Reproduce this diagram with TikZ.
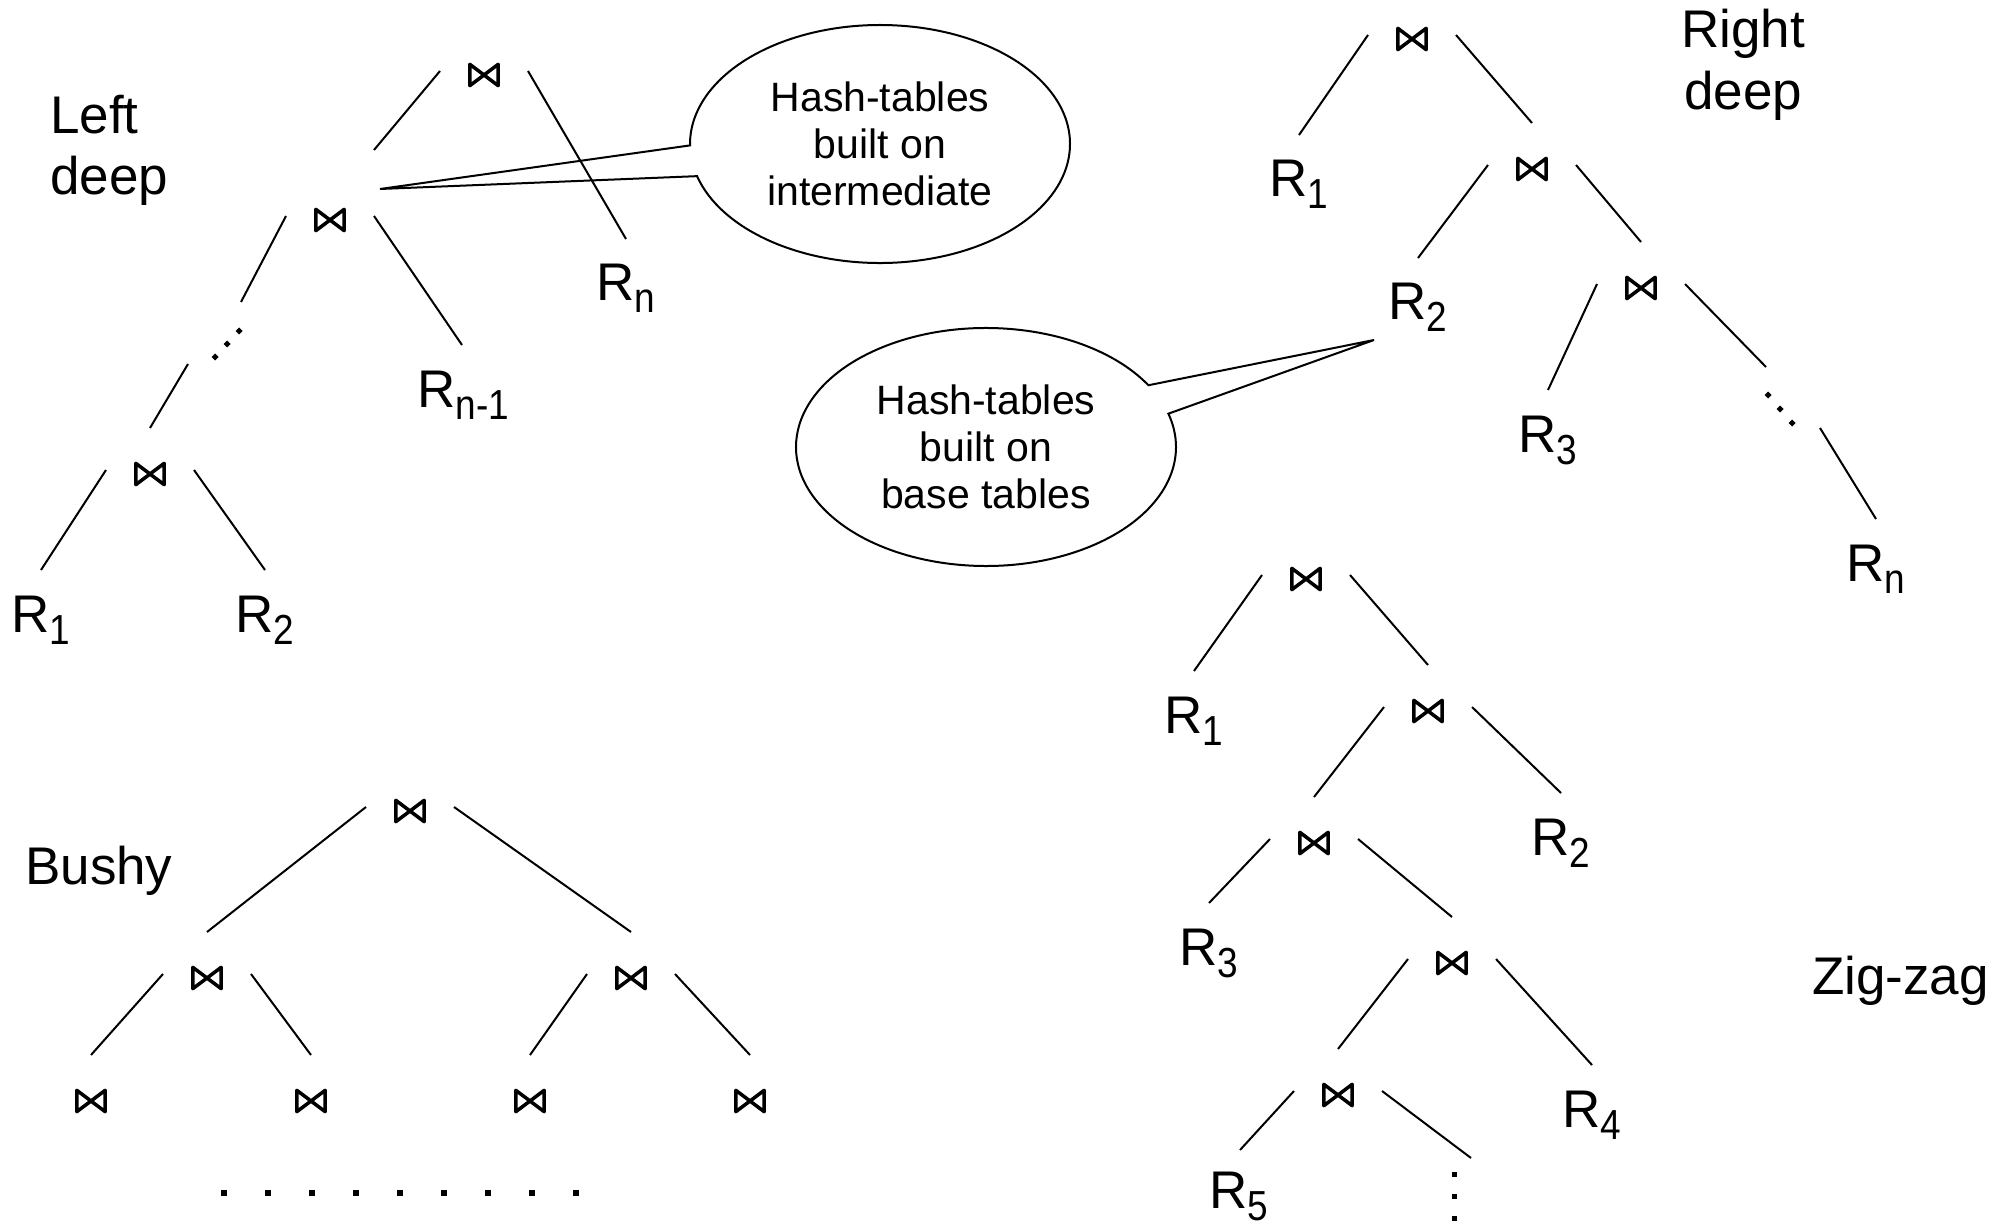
\documentclass[tikz,border=0pt]{standalone}
\usepackage{fontspec}
\setmainfont{Liberation Sans}
\usepackage{graphicx}
\usetikzlibrary{calc,shapes.geometric,shapes.callouts}

% relation name with a lowered, slightly condensed subscript
\newcommand{\Rel}[1]{R\raisebox{-12pt}{\fontsize{42}{42}\selectfont\scalebox{0.88}[1]{#1}}}

\begin{document}
\begin{tikzpicture}[x=1pt,y=-1pt,
  edge/.style={line width=2pt},
  jn/.style={inner sep=0pt, minimum width=28pt, minimum height=21pt},
  bowtie/.style={line width=3.5pt, line join=round, line cap=round},
  rel/.style={inner sep=0pt, anchor=base west, font=\fontsize{53}{61}\selectfont},
  title/.style={inner sep=0pt, font=\fontsize{53}{61.5}\selectfont},
  bubble/.style={ellipse callout, draw, line width=2pt, inner sep=0pt,
    minimum width=380pt, minimum height=238pt, callout pointer arc=15,
    align=center, font=\fontsize{41}{47}\selectfont},
]
\useasboundingbox (0,0) rectangle (2007,1222);

% ---- titles
\node[title, anchor=north west, align=left] (tleft) at (50,94.5) {Left\\deep};
\node[title, anchor=north, align=center] (tright) at (1743,9) {Right\\deep};
\node[title, anchor=base west] (tbushy) at (25,884) {Bushy};
\node[title, anchor=base west] (tzig) at (1812,994) {Zig-zag};

% ---- join operators
% left deep
\node[jn] (a1) at (484,75) {};
\node[jn] (a2) at (330,220) {};
\node[jn] (a3) at (150,474) {};
% right deep
\node[jn] (b1) at (1412,39) {};
\node[jn] (b2) at (1532,169) {};
\node[jn] (b3) at (1641,288) {};
% zig-zag
\node[jn] (z1) at (1306,579) {};
\node[jn] (z2) at (1428,711) {};
\node[jn] (z3) at (1314,843) {};
\node[jn] (z4) at (1452,963) {};
\node[jn] (z5) at (1338,1095) {};
% bushy
\node[jn] (y1) at (410,811) {};
\node[jn] (y2) at (207,978) {};
\node[jn] (y3) at (631,978) {};
\node[jn] (y4) at (91,1101) {};
\node[jn] (y5) at (311,1101) {};
\node[jn] (y6) at (530,1101) {};
\node[jn] (y7) at (750,1101) {};

\foreach \n in {a1,a2,a3,b1,b2,b3,z1,z2,z3,z4,z5,y1,y2,y3,y4,y5,y6,y7}
  \draw[bowtie] (\n.north west) -- (\n.south west) -- (\n.north east) -- (\n.south east) -- cycle;

% ---- relations
\node[rel] (aR1) at (11,632) {\Rel{1}};
\node[rel] (aR2) at (235,632) {\Rel{2}};
\node[rel] (aRn1) at (417,407) {\Rel{n-1}};
\node[rel] (aRn) at (596,301) {\Rel{n}};
\node[rel] (bR1) at (1269,197) {\Rel{1}};
\node[rel] (bR2) at (1388,320) {\Rel{2}};
\node[rel] (bR3) at (1518,452) {\Rel{3}};
\node[rel] (bRn) at (1846,581) {\Rel{n}};
\node[rel] (zR1) at (1164,733) {\Rel{1}};
\node[rel] (zR2) at (1531,855) {\Rel{2}};
\node[rel] (zR3) at (1179,965) {\Rel{3}};
\node[rel] (zR4) at (1562,1127) {\Rel{4}};
\node[rel] (zR5) at (1209,1208) {\Rel{5}};

% ---- ellipses (continuation marks)
\coordinate (adots) at (227,344);
\coordinate (bdots) at (1780,409);
\coordinate (zdots) at (1454,1196);
\coordinate (ydots) at (399.5,1193);
\foreach \k in {-1,0,1} {
  \fill ($(adots)+(12*\k,-13*\k)$) +(-3.5,0) -- +(0,-3.5) -- +(3.5,0) -- +(0,3.5) -- cycle;
  \fill ($(bdots)+(12*\k,14*\k)$) +(-3.5,0) -- +(0,-3.5) -- +(3.5,0) -- +(0,3.5) -- cycle;
  \fill ($(zdots)+(-2.5,22*\k-2.5)$) rectangle +(5,5);
}
\foreach \k in {-4,...,4}
  \fill ($(ydots)+(44*\k-3,-3)$) rectangle +(6,6);

% ---- callouts
\coordinate (tipA) at ($(a2)+(50,-31)$);
\node[bubble, callout absolute pointer={(tipA)}] (hashA) at (880,144)
  {Hash-tables\\built on\\intermediate};
\coordinate (tipB) at ($(bR2.base west)+(-14,20)$);
\node[bubble, callout absolute pointer={(tipB)}] (hashB) at (986,447)
  {Hash-tables\\built on\\base tables};

% ---- left deep tree
\draw[edge] ($(a1)+(-44,-4)$) -- ($(a2)+(44,-70)$);
\draw[edge] ($(a1)+(44,-4)$) -- ($(aRn.base west)+(30,-62)$);
\draw[edge] ($(a2)+(-44,-4)$) -- ($(adots)+(14,-42)$);
\draw[edge] ($(a2)+(44,-4)$) -- ($(aRn1.base west)+(45,-62)$);
\draw[edge] ($(adots)+(-39,20)$) -- ($(a3)+(0,-46)$);
\draw[edge] ($(a3)+(-44,-4)$) -- ($(aR1.base west)+(30,-62)$);
\draw[edge] ($(a3)+(44,-4)$) -- ($(aR2.base west)+(30,-62)$);

% ---- right deep tree
\draw[edge] ($(b1)+(-44,-4)$) -- ($(bR1.base west)+(30,-62)$);
\draw[edge] ($(b1)+(44,-4)$) -- ($(b2)+(0,-46)$);
\draw[edge] ($(b2)+(-44,-4)$) -- ($(bR2.base west)+(30,-62)$);
\draw[edge] ($(b2)+(44,-4)$) -- ($(b3)+(0,-46)$);
\draw[edge] ($(b3)+(-44,-4)$) -- ($(bR3.base west)+(30,-62)$);
\draw[edge] ($(b3)+(44,-4)$) -- ($(bdots)+(-14,-42)$);
\draw[edge] ($(bdots)+(40,19)$) -- ($(bRn.base west)+(30,-62)$);

% ---- zig-zag tree
\draw[edge] ($(z1)+(-44,-4)$) -- ($(zR1.base west)+(30,-62)$);
\draw[edge] ($(z1)+(44,-4)$) -- ($(z2)+(0,-46)$);
\draw[edge] ($(z2)+(-44,-4)$) -- ($(z3)+(0,-46)$);
\draw[edge] ($(z2)+(44,-4)$) -- ($(zR2.base west)+(30,-62)$);
\draw[edge] ($(z3)+(-44,-4)$) -- ($(zR3.base west)+(30,-62)$);
\draw[edge] ($(z3)+(44,-4)$) -- ($(z4)+(0,-46)$);
\draw[edge] ($(z4)+(-44,-4)$) -- ($(z5)+(0,-46)$);
\draw[edge] ($(z4)+(44,-4)$) -- ($(zR4.base west)+(30,-62)$);
\draw[edge] ($(z5)+(-44,-4)$) -- ($(zR5.base west)+(31,-58)$);
\draw[edge] ($(z5)+(44,-4)$) -- ($(zdots)+(17,-38)$);

% ---- bushy tree
\draw[edge] ($(y1)+(-44,-4)$) -- ($(y2)+(0,-46)$);
\draw[edge] ($(y1)+(44,-4)$) -- ($(y3)+(0,-46)$);
\draw[edge] ($(y2)+(-44,-4)$) -- ($(y4)+(0,-46)$);
\draw[edge] ($(y2)+(44,-4)$) -- ($(y5)+(0,-46)$);
\draw[edge] ($(y3)+(-44,-4)$) -- ($(y6)+(0,-46)$);
\draw[edge] ($(y3)+(44,-4)$) -- ($(y7)+(0,-46)$);
\end{tikzpicture}
\end{document}
